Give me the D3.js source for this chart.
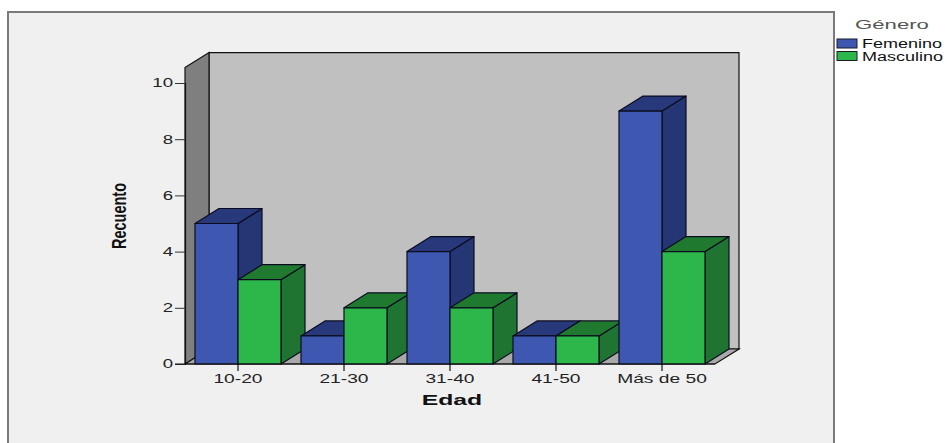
<!DOCTYPE html>
<html>
<head>
<meta charset="utf-8">
<script src="https://cdn.jsdelivr.net/npm/d3@7"></script>
<style>
  html, body { margin: 0; padding: 0; background: #ffffff; }
  svg { display: block; font-family: "Liberation Sans", Arial, sans-serif; }
</style>
</head>
<body>
<svg id="chart" width="947" height="443"></svg>
<script>
// Recuento por grupo de edad y género
const categories = ["10-20", "21-30", "31-40", "41-50", "Más de 50"];
const series = ["Femenino", "Masculino"];
const femenino = [5, 1, 4, 1, 9];
const masculino = [3, 2, 2, 1, 4];
const yTicks = [0, 2, 4, 6, 8, 10];

const values = { Femenino: femenino, Masculino: masculino };
const colors = {
  Femenino: { front: "#3e58b2", top: "#27397a", side: "#243673" },
  Masculino: { front: "#2db74a", top: "#1f7a30", side: "#1e7430" }
};

const svg = d3.select("#chart");

// 3D depth offset of the chart box
const DX = 24, DY = 15;

const y = d3.scaleLinear().domain([0, 10]).range([364, 83]);
const x = d3.scaleBand().domain(categories).range([185, 715]);
const xs = d3.scaleBand().domain(series).range([10, 96]);

// horizontally stretched text helper
function stretch(sel, k) {
  sel.each(function () {
    const w = this.getComputedTextLength();
    d3.select(this).attr("textLength", w * k).attr("lengthAdjust", "spacingAndGlyphs");
  });
}

// outer panel
svg.append("rect")
  .attr("x", 8).attr("y", 12).attr("width", 826).attr("height", 445)
  .attr("fill", "#f0f0f0").attr("stroke", "#7a7a7a").attr("stroke-width", 2);

const x0 = x.range()[0], x1 = x.range()[1];
const yTop = y(10.55), yBase = y(0);
const pts = a => a.map(p => p.join(",")).join(" ");

// back wall
svg.append("polygon")
  .attr("points", pts([[x0 + DX, yTop - DY], [x1 + DX, yTop - DY], [x1 + DX, yBase - DY], [x0 + DX, yBase - DY]]))
  .attr("fill", "#c0c0c0").attr("stroke", "#111").attr("stroke-width", 1.2);
// left wall
svg.append("polygon")
  .attr("points", pts([[x0, yTop], [x0 + DX, yTop - DY], [x0 + DX, yBase - DY], [x0, yBase]]))
  .attr("fill", "#7f7f7f").attr("stroke", "#111").attr("stroke-width", 1.2);
// floor
svg.append("polygon")
  .attr("points", pts([[x0, yBase], [x1, yBase], [x1 + DX, yBase - DY], [x0 + DX, yBase - DY]]))
  .attr("fill", "#a9a9a9").attr("stroke", "#111").attr("stroke-width", 1.2);

// bars
const bars = [];
categories.forEach((c, i) => {
  series.forEach(s => bars.push({ cat: c, s, v: values[s][i] }));
});
const g = svg.append("g").attr("stroke", "#0c0c20").attr("stroke-width", 1.2).attr("stroke-linejoin", "round");
bars.forEach(d => {
  const bx = x(d.cat) + xs(d.s), bw = xs.bandwidth();
  const by = y(d.v), b0 = y(0);
  const col = colors[d.s];
  const bar = g.append("g");
  bar.append("polygon")
    .attr("points", pts([[bx + bw, by], [bx + bw + DX, by - DY], [bx + bw + DX, b0 - DY], [bx + bw, b0]]))
    .attr("fill", col.side);
  bar.append("polygon")
    .attr("points", pts([[bx, by], [bx + bw, by], [bx + bw + DX, by - DY], [bx + DX, by - DY]]))
    .attr("fill", col.top);
  bar.append("rect")
    .attr("x", bx).attr("y", by).attr("width", bw).attr("height", b0 - by)
    .attr("fill", col.front);
});

// y axis
const yAxis = svg.append("g").attr("transform", `translate(${x0},0)`)
  .call(d3.axisLeft(y).tickValues(yTicks).tickSize(10).tickPadding(2).tickFormat(d3.format("d")));
yAxis.select(".domain").attr("stroke", "#111").attr("stroke-width", 1.2);
yAxis.selectAll(".tick line").attr("stroke", "#333");
yAxis.selectAll(".tick text").attr("font-size", 12).attr("fill", "#222")
  .attr("font-family", "Liberation Sans, Arial, sans-serif").call(stretch, 1.55);

// x axis
const xAxis = svg.append("g").attr("transform", `translate(0,${yBase})`)
  .call(d3.axisBottom(x).tickSize(7).tickPadding(3).tickSizeOuter(0));
xAxis.select(".domain").attr("stroke", "#111").attr("stroke-width", 1.2)
  .attr("d", `M${x0 - 10},0H${x1}`);
xAxis.selectAll(".tick line").attr("stroke", "#111").attr("stroke-width", 1.2);
xAxis.selectAll(".tick text").attr("font-size", 12).attr("fill", "#222")
  .attr("font-family", "Liberation Sans, Arial, sans-serif").call(stretch, 1.6);

// axis titles
svg.append("text")
  .attr("x", (x0 + x1) / 2 + 2).attr("y", 405)
  .attr("text-anchor", "middle").attr("font-weight", "bold").attr("font-size", 15)
  .attr("fill", "#111").text("Edad").call(stretch, 1.65);

svg.append("text")
  .attr("transform", "translate(126,216) rotate(-90)")
  .attr("text-anchor", "middle").attr("font-weight", "bold").attr("font-size", 21)
  .attr("fill", "#111").text("Recuento")
  .attr("textLength", 66).attr("lengthAdjust", "spacingAndGlyphs");

// legend
const lg = svg.append("g");
lg.append("text").attr("x", 892).attr("y", 29).attr("text-anchor", "middle")
  .attr("font-size", 13).attr("fill", "#555").text("Género").call(stretch, 1.7);
series.forEach((s, i) => {
  lg.append("rect").attr("x", 837).attr("y", 39 + i * 12.5).attr("width", 20).attr("height", 9)
    .attr("fill", colors[s].front).attr("stroke", "#1a1a2a").attr("stroke-width", 1);
  lg.append("text").attr("x", 862).attr("y", 48 + i * 12.5)
    .attr("font-size", 12).attr("fill", "#111").text(s).call(stretch, 1.5);
});
</script>
</body>
</html>
